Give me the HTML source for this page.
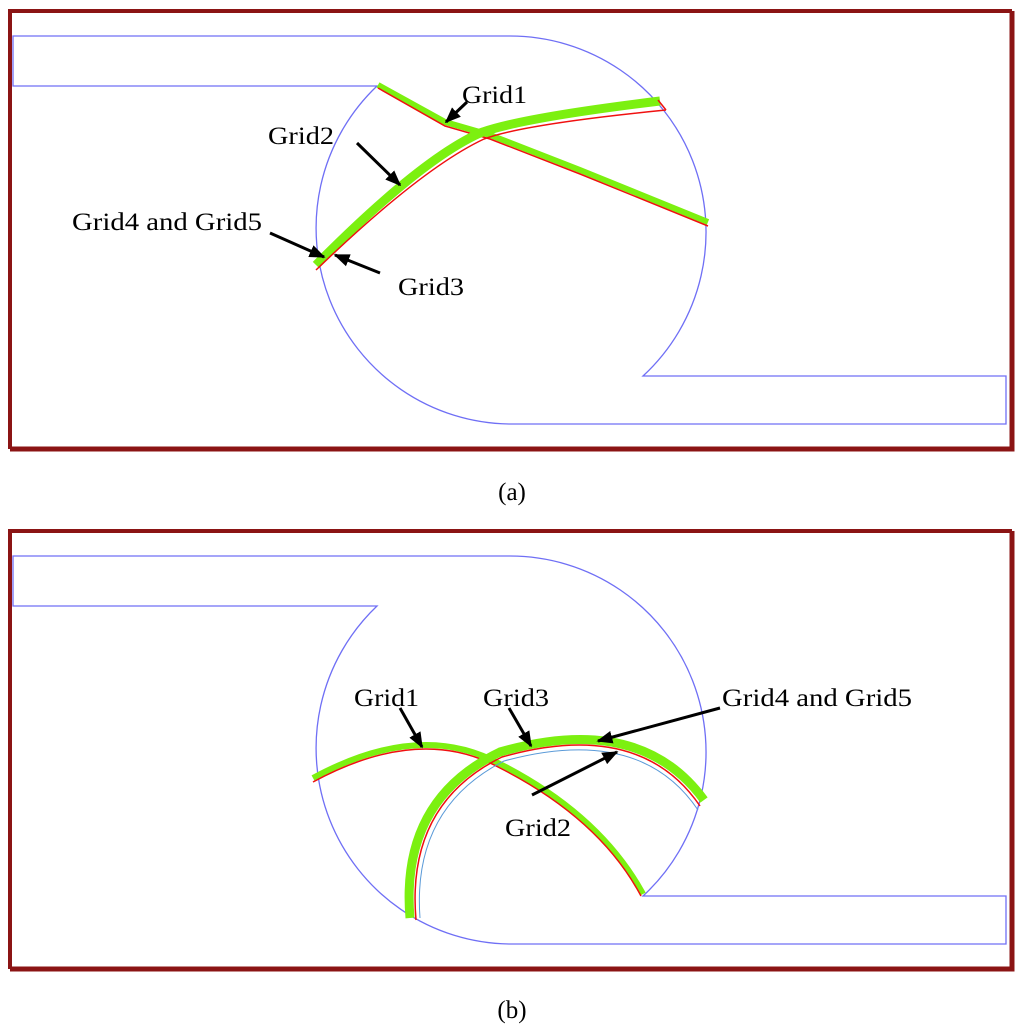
<!DOCTYPE html>
<html><head><meta charset="utf-8"><style>
html,body{margin:0;padding:0;background:#fff;}
svg{display:block;}
text{font-family:"Liberation Serif",serif;font-size:25px;fill:#000;}
</style></head><body>
<svg width="1024" height="1031" viewBox="0 0 1024 1031" xmlns="http://www.w3.org/2000/svg">
<defs>
<marker id="ah2" viewBox="0 0 10 8" markerWidth="16" markerHeight="13" refX="9" refY="4" orient="auto" markerUnits="userSpaceOnUse">
<path d="M0,0 L10,4 L0,8 Z" fill="#000"/>
</marker>
</defs>
<!-- Panel a frame -->
<path d="M10,449 V11 H1012" fill="none" stroke="#8b1414" stroke-width="4"/>
<path d="M10,449 H1012 V11" fill="none" stroke="#8b1414" stroke-width="5"/>
<path d="M13,36 H510 A196,196 0 0 1 643,376 H1006 V424 H510 A196,196 0 0 1 377,86 H13 Z" fill="none" stroke="#6f6ff5" stroke-width="1.3"/>
<!-- grids a -->
<polyline points="378,85 445,122 490,135 580,170 708,222" fill="none" stroke="#7cf010" stroke-width="6" stroke-linejoin="round"/>
<polyline points="378,88 445,126 490,139 580,174 708,226" fill="none" stroke="#f01010" stroke-width="1.5"/>
<path d="M316,265 Q420,160 480,133 Q520,118 660,101" fill="none" stroke="#7cf010" stroke-width="9"/>
<path d="M316,270 Q422,168 484,139 Q524,124 666,110" fill="none" stroke="#f01010" stroke-width="1.5"/>
<polyline points="658,100 666,110" fill="none" stroke="#f01010" stroke-width="1.5"/>
<!-- labels a -->
<text x="462" y="103" textLength="65" lengthAdjust="spacingAndGlyphs">Grid1</text>
<line x1="467" y1="102" x2="446" y2="122" stroke="#000" stroke-width="3" marker-end="url(#ah2)"/>
<text x="268" y="144" textLength="66" lengthAdjust="spacingAndGlyphs">Grid2</text>
<line x1="357" y1="143" x2="400" y2="185" stroke="#000" stroke-width="3" marker-end="url(#ah2)"/>
<text x="72" y="230" textLength="190" lengthAdjust="spacingAndGlyphs">Grid4 and Grid5</text>
<line x1="270" y1="233" x2="324" y2="257" stroke="#000" stroke-width="3" marker-end="url(#ah2)"/>
<text x="398" y="295" textLength="66" lengthAdjust="spacingAndGlyphs">Grid3</text>
<line x1="380" y1="273" x2="335" y2="255" stroke="#000" stroke-width="3" marker-end="url(#ah2)"/>
<text x="512" y="500" text-anchor="middle">(a)</text>

<!-- Panel b frame -->
<path d="M10,969 V531 H1012" fill="none" stroke="#8b1414" stroke-width="4"/>
<path d="M10,969 H1012 V531" fill="none" stroke="#8b1414" stroke-width="5"/>
<path d="M13,556 H510 A196,196 0 0 1 643,896 H1006 V944 H510 A196,196 0 0 1 377,606 H13 Z" fill="none" stroke="#6f6ff5" stroke-width="1.3"/>
<!-- grids b -->
<path d="M313,778 Q420,720 500,764 Q600,815 643,894" fill="none" stroke="#7cf010" stroke-width="6"/>
<path d="M313,782 Q420,724 500,768 Q600,819 641,896" fill="none" stroke="#f01010" stroke-width="1.5"/>
<path d="M410,918 Q400,800 500,752 Q640,712 704,800" fill="none" stroke="#7cf010" stroke-width="9"/>
<path d="M416,920 Q406,804 502,757 Q640,718 700,806" fill="none" stroke="#f01010" stroke-width="1.5"/>
<path d="M420,918 Q412,808 504,761 Q640,724 698,810" fill="none" stroke="#5a9ad8" stroke-width="1"/>
<!-- labels b -->
<text x="354" y="706" textLength="65" lengthAdjust="spacingAndGlyphs">Grid1</text>
<line x1="400" y1="708" x2="422" y2="747" stroke="#000" stroke-width="3" marker-end="url(#ah2)"/>
<text x="483" y="706" textLength="66" lengthAdjust="spacingAndGlyphs">Grid3</text>
<line x1="509" y1="708" x2="531" y2="746" stroke="#000" stroke-width="3" marker-end="url(#ah2)"/>
<text x="722" y="706" textLength="190" lengthAdjust="spacingAndGlyphs">Grid4 and Grid5</text>
<line x1="720" y1="708" x2="598" y2="741" stroke="#000" stroke-width="3" marker-end="url(#ah2)"/>
<text x="505" y="836" textLength="66" lengthAdjust="spacingAndGlyphs">Grid2</text>
<line x1="532" y1="795" x2="617" y2="752" stroke="#000" stroke-width="3" marker-end="url(#ah2)"/>
<text x="512" y="1018" text-anchor="middle">(b)</text>
</svg>
</body></html>
